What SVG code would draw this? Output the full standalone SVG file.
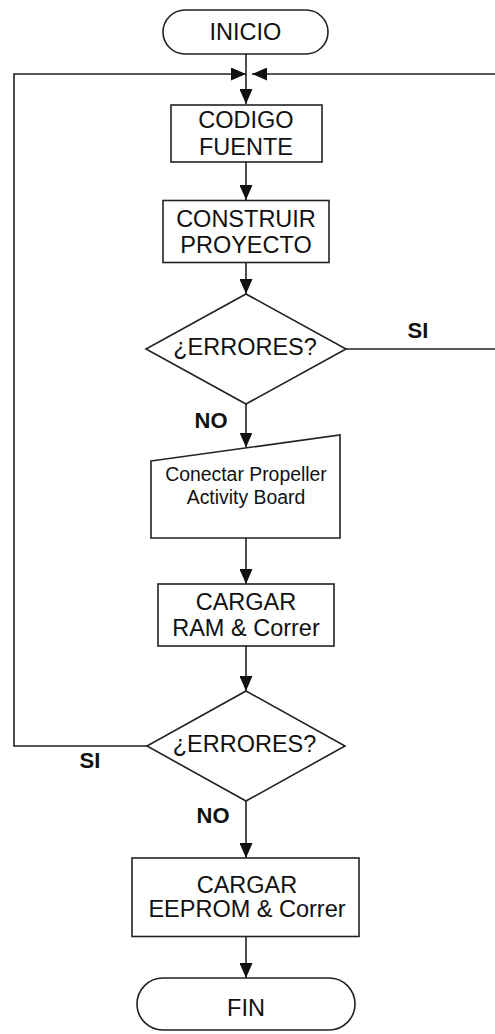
<svg xmlns="http://www.w3.org/2000/svg" width="495" height="1034" viewBox="0 0 495 1034">
<defs>
<style>
.s{fill:#fff;stroke:#222;stroke-width:1.6}
.c{fill:none;stroke:#222;stroke-width:1.6}
.t{font-family:"Liberation Sans",Arial,sans-serif;font-size:23.5px;fill:#111;text-anchor:middle}
.sm{font-size:19.4px}
.l{font-family:"Liberation Sans",Arial,sans-serif;font-size:22px;font-weight:bold;fill:#111;text-anchor:middle}
</style>
<marker id="ah" markerUnits="userSpaceOnUse" markerWidth="15" markerHeight="13" refX="15" refY="6.5" orient="auto">
<path d="M0,0 L15,6.5 L0,13 z" fill="#111"/>
</marker>
</defs>
<rect width="495" height="1034" fill="#fff"/>
<g id="connectors">
<line class="c" x1="246" y1="54" x2="246" y2="104" marker-end="url(#ah)"/>
<line class="c" x1="246" y1="162" x2="246" y2="200" marker-end="url(#ah)"/>
<line class="c" x1="246" y1="262.5" x2="246" y2="294" marker-end="url(#ah)"/>
<line class="c" x1="246" y1="404" x2="246" y2="447.5" marker-end="url(#ah)"/>
<line class="c" x1="246" y1="538" x2="246" y2="584" marker-end="url(#ah)"/>
<line class="c" x1="246" y1="646" x2="246" y2="691" marker-end="url(#ah)"/>
<line class="c" x1="246" y1="801" x2="246" y2="858" marker-end="url(#ah)"/>
<line class="c" x1="246" y1="936.5" x2="246" y2="978" marker-end="url(#ah)"/>
<path class="c" d="M147,746 H14 V74 H246" marker-end="url(#ah)"/>
<path class="c" d="M346,349 H498 V74 H252" marker-end="url(#ah)"/>
<text class="l" x="418" y="338">SI</text>
<text class="l" x="211" y="427.5">NO</text>
<text class="l" x="90" y="768">SI</text>
<text class="l" x="213" y="823">NO</text>
</g>
<g id="inicio">
<rect class="s" x="163" y="10" width="165" height="44" rx="22" ry="22"/>
<text class="t" x="245.5" y="40">INICIO</text>
</g>
<g id="codigo">
<rect class="s" x="171" y="105" width="151" height="57"/>
<text class="t" x="246" y="127.5">CODIGO</text>
<text class="t" x="246" y="155">FUENTE</text>
</g>
<g id="construir">
<rect class="s" x="163" y="200.5" width="166" height="62"/>
<text class="t" x="246" y="226.7">CONSTRUIR</text>
<text class="t" x="246" y="252.7">PROYECTO</text>
</g>
<g id="errores1">
<polygon class="s" points="246,294 346,349 246,404 146,349"/>
<text class="t" x="245" y="355">¿ERRORES?</text>
</g>
<g id="conectar">
<polygon class="s" points="151,461 340,435 340,538 151,538"/>
<text class="t sm" x="246" y="481">Conectar Propeller</text>
<text class="t sm" x="246" y="504">Activity Board</text>
</g>
<g id="cargar-ram">
<rect class="s" x="158" y="584" width="176" height="62"/>
<text class="t" x="246" y="609.5">CARGAR</text>
<text class="t" x="246" y="636">RAM &amp; Correr</text>
</g>
<g id="errores2">
<polygon class="s" points="246,691 345,746 246,801 147,746"/>
<text class="t" x="244.5" y="752">¿ERRORES?</text>
</g>
<g id="cargar-eeprom">
<rect class="s" x="132" y="858" width="227" height="78.5"/>
<text class="t" x="247" y="893.3">CARGAR</text>
<text class="t" x="247" y="917.3">EEPROM &amp; Correr</text>
</g>
<g id="fin">
<rect class="s" x="137" y="978" width="218" height="52" rx="26" ry="26"/>
<text class="t" x="246" y="1015.5">FIN</text>
</g>
</svg>
